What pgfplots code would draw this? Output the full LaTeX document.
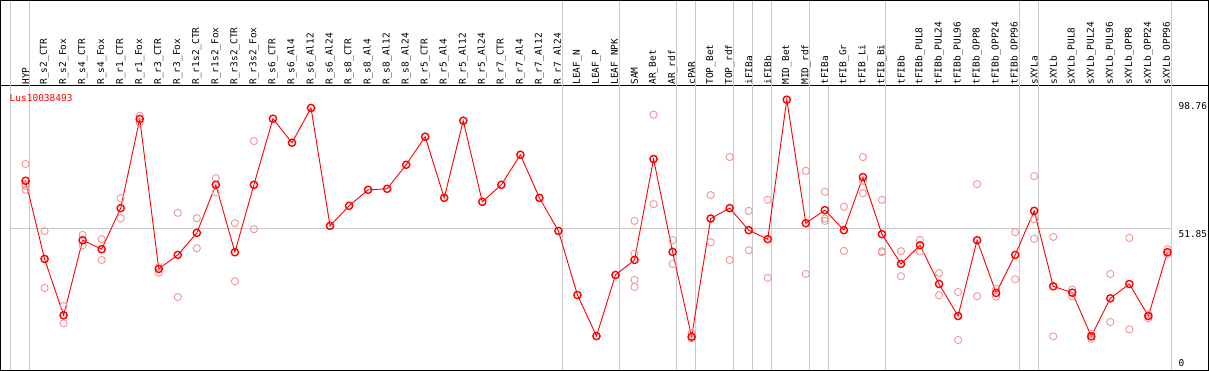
\documentclass[border=0pt]{standalone}
\usepackage{pgfplots}
\pgfplotsset{compat=1.18}
\usepackage{pgfplotstable}
\usepackage{fontspec}
\setmainfont{DejaVu Sans Mono}
\definecolor{rep}{RGB}{240,150,150}
\definecolor{gridg}{RGB}{200,200,200}
\pgfplotstableread{
x y
0 69.31
1 40.94
2 20.47
3 47.74
4 44.47
5 59.38
6 91.74
7 37.31
8 42.40
9 50.40
10 67.85
11 43.38
12 67.85
13 91.85
14 83.12
15 95.74
16 52.94
17 60.21
18 66.03
19 66.40
20 75.12
21 85.31
22 63.12
23 91.12
24 61.67
25 67.85
26 78.76
27 63.12
28 51.12
29 27.85
30 12.94
31 35.12
32 40.58
33 77.20
34 43.49
35 12.69
36 55.60
37 59.38
38 51.38
39 48.11
40 98.76
41 53.92
42 58.65
43 51.38
44 70.65
45 49.92
46 39.12
47 45.92
48 31.85
49 20.21
50 47.74
51 28.58
52 42.40
53 58.40
54 31.01
55 28.69
56 12.83
57 26.65
58 31.85
59 20.21
60 43.38
}\maindata
\pgfplotstableread{
x y
0 75.38
0 68.11
0 67.49
0 66.03
1 51.02
1 30.40
2 23.85
2 17.56
3 49.67
3 45.92
4 48.11
4 40.58
5 63.01
5 55.74
6 92.94
6 90.51
7 38.03
7 35.96
8 57.67
8 27.12
9 55.74
9 44.83
10 70.29
10 65.05
11 53.92
11 32.83
12 83.74
12 51.74
32 54.76
32 42.87
32 33.31
32 30.76
33 93.31
33 60.83
34 47.74
34 39.12
35 13.92
35 12.11
36 64.11
36 47.01
37 77.92
37 40.58
38 58.40
38 44.11
39 62.40
39 34.03
41 72.94
41 35.49
42 65.31
42 55.60
42 54.76
43 59.85
43 43.85
44 77.92
44 69.31
44 64.83
45 62.40
45 43.74
45 43.38
46 43.74
46 34.65
47 47.85
47 43.60
48 35.85
48 27.74
49 28.94
49 11.49
50 68.11
50 27.38
51 30.03
51 27.23
52 50.65
52 33.56
53 71.01
53 55.38
53 48.21
54 48.94
54 12.83
55 29.78
55 27.38
56 13.67
56 11.96
57 35.49
57 18.03
58 48.58
58 15.38
59 20.83
59 19.38
60 44.47
60 42.65
}\repdata
\begin{document}
\begin{tikzpicture}
\begin{axis}[
  at={(0,0)}, anchor=south west,
  scale only axis,
  width=1206bp, height=284bp,
  xmin=-1.316, xmax=62.16,
  ymin=0.58, ymax=103.85,
  clip=false,
  axis line style={black, line width=1bp},
  ytick=\empty,
  xtick={0,...,60},
  major tick length=0pt,
  xticklabel pos=right,
  xticklabel style={rotate=90, anchor=west, inner sep=1bp, font=\fontsize{9.5}{10}\selectfont},
  xticklabels={HYP,R\_s2\_CTR,R\_s2\_Fox,R\_s4\_CTR,R\_s4\_Fox,R\_r1\_CTR,R\_r1\_Fox,R\_r3\_CTR,R\_r3\_Fox,R\_r1s2\_CTR,R\_r1s2\_Fox,R\_r3s2\_CTR,R\_r3s2\_Fox,R\_s6\_CTR,R\_s6\_Al4,R\_s6\_Al12,R\_s6\_Al24,R\_s8\_CTR,R\_s8\_Al4,R\_s8\_Al12,R\_s8\_Al24,R\_r5\_CTR,R\_r5\_Al4,R\_r5\_Al12,R\_r5\_Al24,R\_r7\_CTR,R\_r7\_Al4,R\_r7\_Al12,R\_r7\_Al24,LEAF\_N,LEAF\_P,LEAF\_NPK,SAM,AR\_Bet,AR\_rdf,cPAR,TOP\_Bet,TOP\_rdf,iFIBa,iFIBb,MID\_Bet,MID\_rdf,tFIBa,tFIB\_Gr,tFIB\_Li,tFIB\_Bi,tFIBb,tFIBb\_PUL8,tFIBb\_PUL24,tFIBb\_PUL96,tFIBb\_OPP8,tFIBb\_OPP24,tFIBb\_OPP96,sXYLa,sXYLb,sXYLb\_PUL8,sXYLb\_PUL24,sXYLb\_PUL96,sXYLb\_OPP8,sXYLb\_OPP24,sXYLb\_OPP96},
]
% separators
\pgfplotsinvokeforeach{-0.79,0.21,28.21,31.21,34.21,35.21,37.21,38.21,39.21,41.21,45.21,52.21,53.21,60.21}{
  \draw[gridg, line width=1bp] (axis cs:#1,0.58) -- ([yshift=85bp]axis cs:#1,103.85);
}
\draw[gridg, line width=1bp] (axis cs:42.21,0.58) -- (axis cs:42.21,103.85);
\draw[gridg, line width=1bp] (axis cs:-0.79,51.85) -- (axis cs:60.21,51.85);
% header box
\draw[black, line width=1bp] (rel axis cs:0,0) rectangle ([yshift=85bp]rel axis cs:1,1);
\addplot[only marks, mark=o, color=rep, mark size=3.6bp, mark options={line width=0.9bp}] table[x=x,y=y] {\repdata};
\addplot[color=red, line width=0.9bp, mark=o, mark size=3.6bp, mark options={line width=1.4bp}] table[x=x,y=y] {\maindata};
\node[anchor=west, text=red, inner sep=0pt, font=\fontsize{9.5}{10}\selectfont] at ([xshift=9bp,yshift=-12bp]rel axis cs:0,1) {Lus10038493};
\node[anchor=north west, inner sep=0pt, font=\fontsize{9.5}{10}\selectfont] at ([xshift=7bp,yshift=-3bp]axis cs:60.21,98.76) {98.76};
\node[anchor=north west, inner sep=0pt, font=\fontsize{9.5}{10}\selectfont] at ([xshift=7bp,yshift=-1bp]axis cs:60.21,51.85) {51.85};
\node[anchor=south west, inner sep=0pt, font=\fontsize{9.5}{10}\selectfont] at ([xshift=7bp,yshift=3bp]axis cs:60.21,0.58) {0};
\end{axis}
\end{tikzpicture}
\end{document}
